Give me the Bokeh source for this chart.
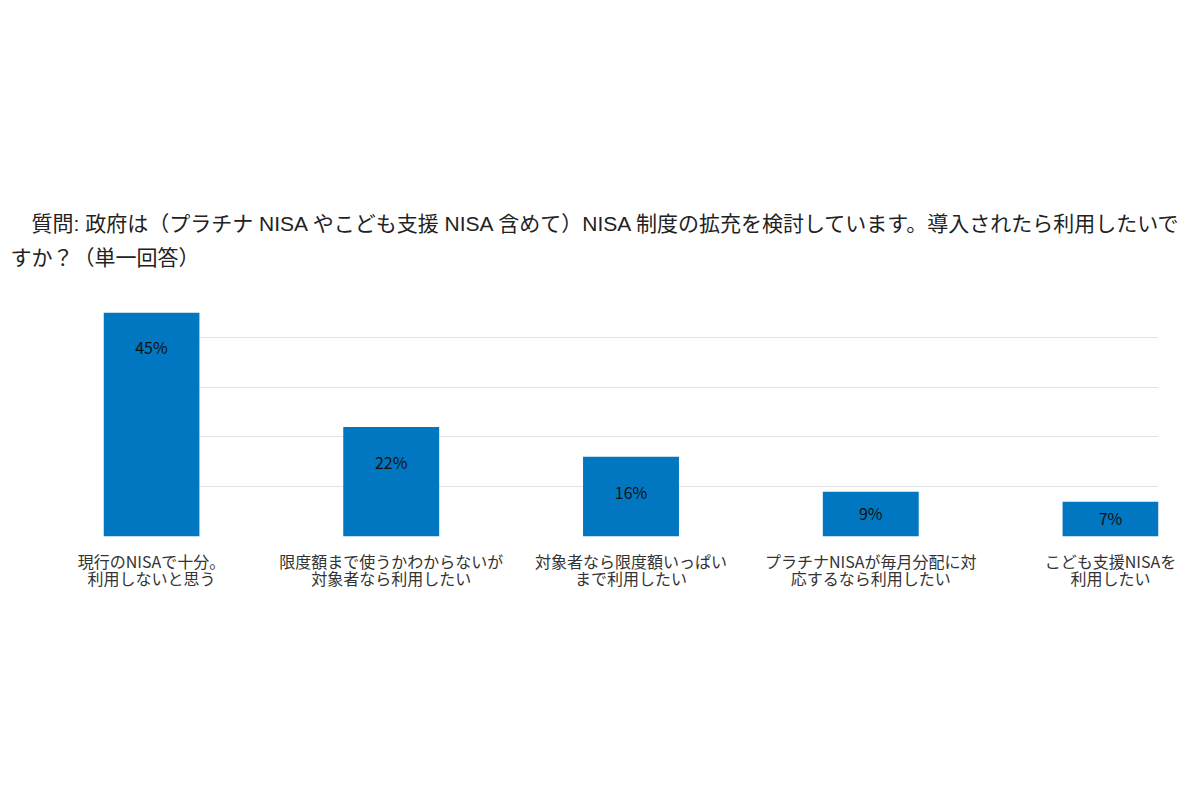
from bokeh.plotting import figure
from bokeh.models import ColumnDataSource, FixedTicker, Range1d, Title
from bokeh.core.properties import value
from bokeh.embed import file_html
from bokeh.resources import INLINE

title_lines = [
    "\u3000質問: 政府は（プラチナ NISA やこども支援 NISA 含めて）NISA 制度の拡充を検討しています。導入されたら利用したいで",
    "すか？（単一回答）",
]
categories = [
    "現行のNISAで十分。\n利用しないと思う",
    "限度額まで使うかわからないが\n対象者なら利用したい",
    "対象者なら限度額いっぱい\nまで利用したい",
    "プラチナNISAが毎月分配に対\n応するなら利用したい",
    "こども支援NISAを\n利用したい",
]
values = [45, 22, 16, 9, 7]
value_labels = ["45%", "22%", "16%", "9%", "7%"]
grid_ticks = [0, 10, 20, 30, 40]

BLUE = "#0077c0"
JP = "Noto Sans CJK JP"
TITLE_FONT = "Liberation Sans, Noto Sans CJK JP"

xs = list(range(len(categories)))
label_y = [v - min(v / 2.0 - 0.3, 7.0) for v in values]
src = ColumnDataSource(dict(x=xs, top=values, ly=label_y, lab=value_labels))

p = figure(width=1192, height=620, output_backend="svg", toolbar_location=None,
           x_range=Range1d(-0.2, len(categories) - 0.8), y_range=Range1d(0, 45),
           min_border_left=103, min_border_right=34, min_border_top=312, min_border_bottom=84)
p.outline_line_color = None
p.background_fill_color = "white"
p.border_fill_color = "white"

p.vbar(x="x", top="top", width=0.4, bottom=0, source=src, fill_color=BLUE, line_color=None)
p.text(x="x", y="ly", text="lab", source=src, text_align="center", text_baseline="middle",
       text_font=value(JP), text_font_size="16px", text_color="#111111")

p.xgrid.visible = False
p.yaxis.visible = False
p.ygrid.ticker = FixedTicker(ticks=grid_ticks)
p.ygrid.grid_line_color = "#e2e2e2"
p.ygrid.grid_line_width = 1.2

ax = p.xaxis[0]
ax.ticker = FixedTicker(ticks=xs)
ax.major_label_overrides = {i: c for i, c in zip(xs, categories)}
ax.axis_line_color = None
ax.major_tick_line_color = None
ax.minor_tick_line_color = None
ax.major_label_standoff = 6
ax.major_label_text_font = JP
ax.major_label_text_font_size = "16px"
ax.major_label_text_color = "#333333"
ax.major_label_text_line_height = 0.73

# titles: closest to frame added first
p.add_layout(Title(text=title_lines[1], align="left", offset=-93, standoff=87,
                   text_font=TITLE_FONT, text_font_size="21px",
                   text_font_style="normal", text_color="#222222"), "above")
p.add_layout(Title(text=title_lines[0], align="left", offset=-93, standoff=-69,
                   text_font=TITLE_FONT, text_font_size="21px",
                   text_font_style="normal", text_color="#222222"), "above")

open("out.html", "w").write(file_html(p, INLINE))
